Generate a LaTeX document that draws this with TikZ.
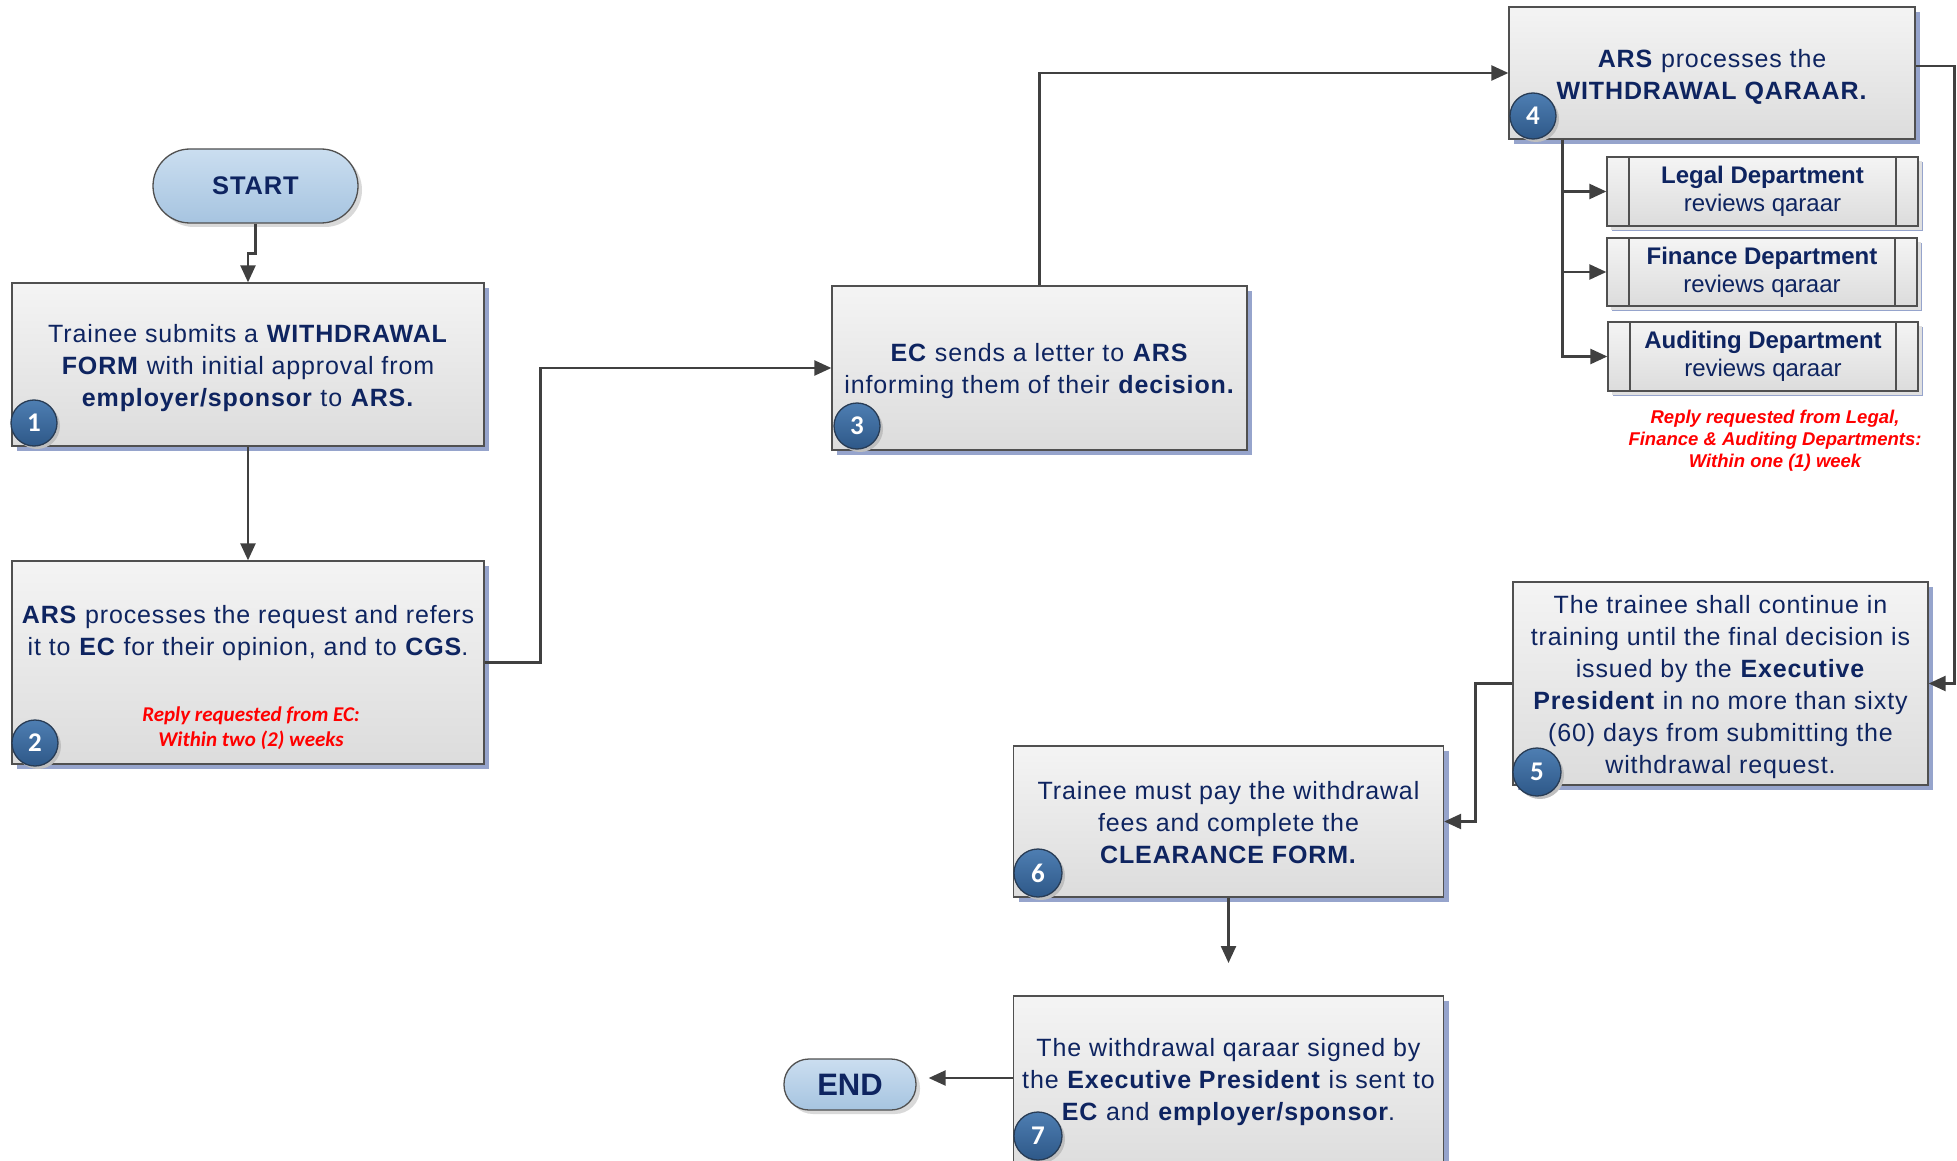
\documentclass[tikz,border=0pt]{standalone}
\usepackage{fontspec}
\setmainfont[LetterSpace=3.5]{Liberation Sans}
\newfontfamily\plainfont{Liberation Sans}
\newfontfamily\carlfont{Carlito}
\usetikzlibrary{arrows.meta,shadows,shapes.geometric}
\definecolor{navy}{RGB}{14,36,96}
\definecolor{boxtop}{RGB}{244,244,244}
\definecolor{boxbot}{RGB}{220,220,220}
\definecolor{boxline}{RGB}{80,80,80}
\definecolor{shadowc}{RGB}{150,164,204}
\definecolor{badgetop}{RGB}{78,126,178}
\definecolor{badgebot}{RGB}{46,88,136}
\definecolor{badgeline}{RGB}{40,60,85}
\definecolor{termtop}{RGB}{203,222,240}
\definecolor{termbot}{RGB}{166,196,224}
\definecolor{connc}{RGB}{64,64,64}
\definecolor{redc}{RGB}{255,0,0}
\begin{document}
\begin{tikzpicture}[x=1pt,y=-1pt,
  box/.style={draw=boxline, line width=1.3pt, top color=boxtop, bottom color=boxbot,
    text=navy, align=center, inner sep=4pt,
    drop shadow={shadow xshift=5pt, shadow yshift=-5pt, fill=shadowc, opacity=1}},
  txt/.style={text=navy, align=center, inner sep=0pt, font=\fontsize{25}{32}\selectfont},
  subbox/.style={box, font=\plainfont\fontsize{24}{28}\selectfont,
    drop shadow={shadow xshift=4pt, shadow yshift=-4pt, fill=black!12, opacity=1},
    path picture={
      \draw[boxline, line width=1.3pt] ([xshift=22pt]path picture bounding box.north west) -- ([xshift=22pt]path picture bounding box.south west);
      \draw[boxline, line width=1.3pt] ([xshift=-22pt]path picture bounding box.north east) -- ([xshift=-22pt]path picture bounding box.south east);}},
  term/.style={draw=boxline, line width=1.3pt, top color=termtop, bottom color=termbot,
    text=navy, inner sep=0pt,
    drop shadow={shadow xshift=4pt, shadow yshift=-4pt, fill=black!15, opacity=1}},
  badge/.style={circle, draw=badgeline, line width=1.3pt, top color=badgetop, bottom color=badgebot,
    minimum size=46pt, inner sep=0pt, text=white,
    font=\carlfont\bfseries\fontsize{27}{27}\selectfont,
    drop shadow={shadow xshift=3pt, shadow yshift=-3pt, fill=black!25, opacity=1}},
  redA/.style={text=redc, align=center, inner sep=0pt, font=\carlfont\bfseries\itshape\fontsize{21}{25}\selectfont},
  redB/.style={text=redc, align=center, inner sep=0pt, font=\plainfont\bfseries\itshape\fontsize{18.5}{22}\selectfont},
  conn/.style={draw=connc, line width=2.4pt, -{Triangle[length=17pt,width=15pt]}},
  plain/.style={draw=connc, line width=2.4pt}
]
\useasboundingbox (0,0) rectangle (1957,1161);
\clip (0,0) rectangle (1957,1161);

% terminals
\node[term, rounded corners=37pt, minimum width=205pt, minimum height=74pt,
  font=\bfseries\fontsize{25.5}{30}\selectfont] (start) at (255.5,186) {START};
\node[term, rounded corners=25pt, minimum width=132pt, minimum height=51pt,
  font=\plainfont\bfseries\fontsize{31}{34}\selectfont] (end) at (850,1084.5) {END};

% process boxes
\node[box, minimum width=472pt, minimum height=163pt] (box1) at (248,364.5) {};
\node[txt] (t1) at (248,368)
  {Trainee submits a \textbf{WITHDRAWAL}\\\textbf{FORM} with initial approval from\\\textbf{employer/sponsor} to \textbf{ARS.}};
\node[box, minimum width=472pt, minimum height=203pt] (box2) at (248,662.5) {};
\node[txt] (t2) at (248,633.5)
  {\textbf{ARS} processes the request and refers\\it to \textbf{EC} for their opinion, and to \textbf{CGS}.};
\node[redA] (r2) at (251,728) {Reply requested from EC:\\Within two (2) weeks};
\node[box, minimum width=415pt, minimum height=164pt] (box3) at (1039.5,368) {};
\node[txt] (t3) at (1039.5,371.5)
  {\textbf{EC} sends a letter to \textbf{ARS}\\informing them of their \textbf{decision.}};
\node[box, minimum width=406pt, minimum height=132pt] (box4) at (1712,73) {};
\node[txt] (t4) at (1712,76.5)
  {\textbf{ARS} processes the\\\textbf{WITHDRAWAL QARAAR.}};
\node[subbox, minimum width=311pt, minimum height=69pt] (legal) at (1762.5,191.5)
  {\textbf{Legal Department}\\reviews qaraar};
\node[subbox, minimum width=310pt, minimum height=68pt] (finance) at (1762,272)
  {\textbf{Finance Department}\\reviews qaraar};
\node[subbox, minimum width=310pt, minimum height=69pt] (audit) at (1763,356.5)
  {\textbf{Auditing Department}\\reviews qaraar};
\node[redB] (r4) at (1775,441)
  {Reply requested from Legal,\\Finance \& Auditing Departments:\\Within one (1) week};
\node[box, minimum width=415pt, minimum height=203pt] (box5) at (1720.5,683.5) {};
\node[txt] (t5) at (1720.5,687)
  {The trainee shall continue in\\training until the final decision is\\issued by the \textbf{Executive}\\\textbf{President} in no more than sixty\\(60) days from submitting the\\withdrawal request.};
\node[box, minimum width=430pt, minimum height=151pt] (box6) at (1228.5,821.5) {};
\node[txt] (t6) at (1228.5,823)
  {Trainee must pay the withdrawal\\fees and complete the\\\textbf{CLEARANCE FORM.}};
\node[box, minimum width=430pt, minimum height=180pt] (box7) at (1228.5,1086) {};
\node[txt] (t7) at (1228.5,1082)
  {The withdrawal qaraar signed by\\the \textbf{Executive President} is sent to\\\textbf{EC} and \textbf{employer/sponsor}.};

% badges
\node[badge] (b1) at (34,423) {1};
\node[badge] (b2) at (35,743) {2};
\node[badge] (b3) at (857,426) {3};
\node[badge] (b4) at (1533,116) {4};
\node[badge, minimum size=48pt] (b5) at (1537,772) {5};
\node[badge, minimum size=48pt] (b6) at (1038,873) {6};
\node[badge, minimum size=48pt] (b7) at (1038,1136) {7};

% connectors
\draw[conn] (start.south) -- ++(0,30) -| (box1.north);
\draw[conn] (box1.south) -- (box2.north);
\draw[conn] (box2.east) -- ++(56,0) |- (box3.west);
\draw[conn] (box3.north) |- (box4.west);
\coordinate (br) at ([xshift=54pt]box4.south west);
\draw[plain] (br) -- (br |- audit.west);
\draw[conn] (br) |- (legal.west);
\draw[conn] (br) |- (finance.west);
\draw[conn] (br) |- (audit.west);
\draw[conn] ([yshift=7pt]box4.east) -- ++(39,0) |- (box5.east);
\draw[conn] (box5.west) -- ++(-37,0) |- (box6.east);
\coordinate (free6) at (1228.5,963);
\draw[conn] (box6.south) -- (free6);
\draw[conn] ([yshift=8pt]box7.west) -- ([xshift=12pt,yshift=6.5pt]end.east);
\end{tikzpicture}
\end{document}
